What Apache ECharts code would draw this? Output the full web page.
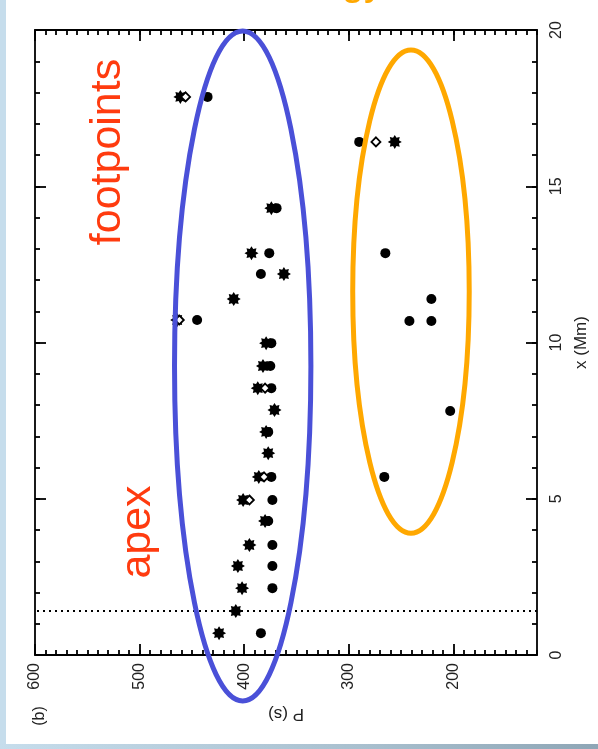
<!DOCTYPE html>
<html>
<head>
<meta charset="utf-8">
<script src="https://cdn.jsdelivr.net/npm/echarts@6.0.0/dist/echarts.min.js"></script>
<style>
html,body{margin:0;padding:0;background:#fff;}
#chart{position:absolute;left:0;top:0;width:598px;height:749px;}
#lstrip{position:absolute;left:0;top:0;width:6px;height:749px;background:#c6ddec;z-index:5;}
#bstrip{position:absolute;left:0;top:744px;width:598px;height:5px;background:linear-gradient(90deg,#c6ddec,#a9c0cf 60%,#8ea6b6);z-index:5;}
</style>
</head>
<body>
<div id="chart"></div>
<div id="lstrip"></div>
<div id="bstrip"></div>
<script>
// ---- data (x in Mm, P in s) ----
const circleX = [17.86, 14.30, 12.86, 12.19, 10.72, 9.98, 9.25, 8.54, 7.14, 5.70, 4.96, 4.29, 3.52, 2.85, 2.14, 0.70,
                 16.42, 12.86, 11.39, 10.69, 10.69, 7.81, 5.70];
const circleP = [435, 369, 376, 384, 445, 374, 375, 374, 377, 374, 373, 377, 373, 373, 373, 384,
                 290, 265, 221, 242, 221, 203, 266];
const starX = [17.86, 16.42, 14.30, 12.86, 12.19, 11.39, 10.72, 9.98, 9.25, 8.54, 7.84, 7.14, 6.46, 5.70, 4.96, 4.29, 3.52, 2.85, 2.14, 1.41, 0.70];
const starP = [461, 256, 374, 393, 362, 410, 464, 379, 382, 387, 371, 379, 377, 386, 401, 380, 395, 406, 402, 408, 424];
const diamondX = [17.86, 16.42, 10.72, 8.54, 5.70, 4.96];
const diamondP = [456, 274, 462, 380, 381, 395];
const pMajorTicks = [200, 300, 400, 500, 600];
const dottedLineX = 1.41;
// annotation ellipses: [centre P, centre x, radius in P, radius in x]
const blueEllipse = [401.4, 9.25, 65.2, 10.72];
const orangeEllipse = [240.5, 11.63, 55.7, 7.73];

const zip = (a, b) => a.map((v, i) => [b[i], v]);
const starPath = 'path://M200,100L160.1,124.9L170.7,170.7L124.9,160.1L100,200L75.1,160.1L29.3,170.7L39.9,124.9L0,100L39.9,75.1L29.3,29.3L75.1,39.9L100,0L124.9,39.9L170.7,29.3L160.1,75.1Z';

const chart = echarts.init(document.getElementById('chart'), null, {renderer: 'canvas'});
const font = 'Liberation Sans, Arial, sans-serif';
const black = '#000';
const lineW = 1.8;

function pAxis(pos, major, showLine, labels) {
  const ax = {
    type: 'value', min: 120, max: 600, inverse: true, position: pos, gridIndex: 0,
    axisLine: {show: showLine, onZero: false, lineStyle: {color: black, width: lineW}},
    axisTick: {show: true, inside: true, length: major ? 11 : 5, lineStyle: {color: black, width: lineW}},
    axisLabel: {show: false},
    splitLine: {show: false}
  };
  if (major) {
    ax.axisTick.customValues = pMajorTicks;
    ax.axisLabel = {show: labels, customValues: pMajorTicks, rotate: 90, margin: 8, fontSize: 16, color: '#222', fontFamily: font};
  } else {
    ax.interval = 10;
  }
  return ax;
}
function xAxisV(pos, major, showLine, labels) {
  return {
    type: 'value', min: 0, max: 20, interval: major ? 5 : 1, position: pos, gridIndex: 0,
    axisLine: {show: showLine, onZero: false, lineStyle: {color: black, width: lineW}},
    axisTick: {show: true, inside: true, length: major ? 11 : 5, lineStyle: {color: black, width: lineW}},
    axisLabel: {show: labels, rotate: 90, margin: 12, fontSize: 16, color: '#222', fontFamily: font},
    splitLine: {show: false}
  };
}

const xAxes = [pAxis('bottom', true, true, true), pAxis('bottom', false, false, false),
               pAxis('top', true, true, false), pAxis('top', false, false, false)];
xAxes[0].name = 'P (s)';
xAxes[0].nameLocation = 'middle';
xAxes[0].nameRotate = 180;
xAxes[0].nameGap = 50;
xAxes[0].nameTextStyle = {fontSize: 17, color: '#222', fontFamily: font};

const yAxes = [xAxisV('right', true, true, true), xAxisV('right', false, false, false),
               xAxisV('left', true, true, false), xAxisV('left', false, false, false)];
yAxes[0].name = 'x (Mm)';
yAxes[0].nameLocation = 'middle';
yAxes[0].nameRotate = 90;
yAxes[0].nameGap = 36;
yAxes[0].nameTextStyle = {fontSize: 17, color: '#222', fontFamily: font};

chart.setOption({
  animation: false,
  backgroundColor: 'transparent',
  grid: {left: 35, right: 60, top: 30, bottom: 94},
  xAxis: xAxes,
  yAxis: yAxes,
  series: [
    {
      type: 'scatter', name: 'circles', xAxisIndex: 0, yAxisIndex: 0,
      symbol: 'circle', symbolSize: 10,
      itemStyle: {color: black, opacity: 1},
      data: zip(circleX, circleP),
      markLine: {
        silent: true, symbol: ['none', 'none'], label: {show: false},
        lineStyle: {color: black, type: [2, 4], width: 2, opacity: 1},
        data: [{yAxis: dottedLineX}]
      }
    },
    {
      type: 'scatter', name: 'asterisks', xAxisIndex: 0, yAxisIndex: 0,
      symbol: starPath, symbolSize: 14,
      itemStyle: {color: black, opacity: 1},
      data: zip(starX, starP)
    },
    {
      type: 'scatter', name: 'diamonds', xAxisIndex: 0, yAxisIndex: 0,
      symbol: 'diamond', symbolSize: 9,
      itemStyle: {color: '#fff', borderColor: black, borderWidth: 1.8, opacity: 1},
      data: zip(diamondX, diamondP)
    }
  ]
});

function ellipseGraphic(e, color) {
  const c = chart.convertToPixel({gridIndex: 0}, [e[0], e[1]]);
  const r1 = chart.convertToPixel({gridIndex: 0}, [e[0] - e[2], e[1] + e[3]]);
  return {
    type: 'ellipse', z: 50,
    shape: {cx: c[0], cy: c[1], rx: Math.abs(r1[0] - c[0]), ry: Math.abs(c[1] - r1[1])},
    style: {fill: null, stroke: color, lineWidth: 5}
  };
}

chart.setOption({
  graphic: [
    ellipseGraphic(blueEllipse, '#4a50d8'),
    ellipseGraphic(orangeEllipse, '#ffa800'),
    {type: 'text', x: 108, y: 152, rotation: Math.PI / 2, z: 60,
     style: {text: 'footpoints', fontSize: 43, fontFamily: font, fill: '#ff3b0f', align: 'center', verticalAlign: 'middle'}},
    {type: 'text', x: 138, y: 532, rotation: Math.PI / 2, z: 60,
     style: {text: 'apex', fontSize: 43, fontFamily: font, fill: '#ff3b0f', align: 'center', verticalAlign: 'middle'}},
    {type: 'text', x: 40, y: 716, rotation: Math.PI / 2, z: 60,
     style: {text: '(b)', fontSize: 16, fontFamily: font, fill: '#222', align: 'center', verticalAlign: 'middle'}},
    {type: 'text', x: 384, y: 4, z: 60,
     style: {text: 'Energy', fontSize: 40, fontFamily: font, fill: '#ffa800', align: 'right', verticalAlign: 'bottom'}}
  ]
});
</script>
</body>
</html>
